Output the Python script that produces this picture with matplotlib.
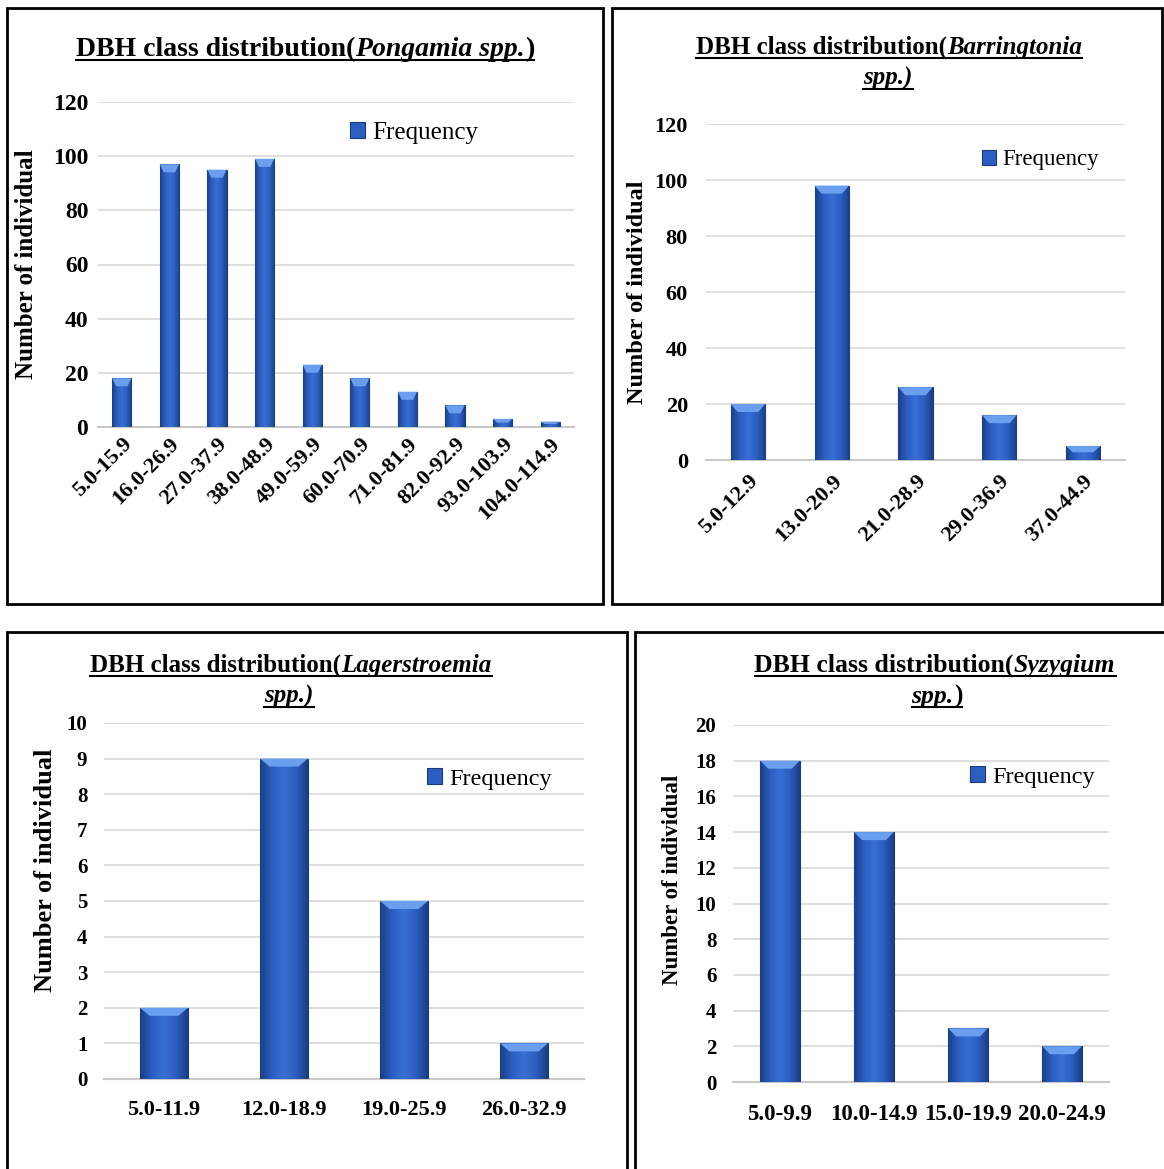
import numpy as np
import matplotlib
matplotlib.use("Agg")
import matplotlib.pyplot as plt
from matplotlib.colors import LinearSegmentedColormap
from matplotlib.patches import Rectangle, Polygon
from matplotlib.lines import Line2D

# --- data ---
pong_classes = ["5.0-15.9", "16.0-26.9", "27.0-37.9", "38.0-48.9", "49.0-59.9",
                "60.0-70.9", "71.0-81.9", "82.0-92.9", "93.0-103.9", "104.0-114.9"]
pong_freq = [18, 97, 95, 99, 23, 18, 13, 8, 3, 2]

barr_classes = ["5.0-12.9", "13.0-20.9", "21.0-28.9", "29.0-36.9", "37.0-44.9"]
barr_freq = [20, 98, 26, 16, 5]

lag_classes = ["5.0-11.9", "12.0-18.9", "19.0-25.9", "26.0-32.9"]
lag_freq = [2, 9, 5, 1]

syz_classes = ["5.0-9.9", "10.0-14.9", "15.0-19.9", "20.0-24.9"]
syz_freq = [18, 14, 3, 2]

W, H = 1164, 1169
plt.rcParams["font.family"] = ["Liberation Serif", "DejaVu Serif"]

fig = plt.figure(figsize=(W / 100, H / 100), dpi=100)
renderer = fig.canvas.get_renderer()

bar_cmap = LinearSegmentedColormap.from_list(
    "bar", ["#1b3f88", "#2b5ec0", "#3870d3", "#2b5ec0", "#1b3f88"])
BAR_COLOR = "#2b5ec0"


def fx(px):
    return px / W


def fy(py):
    return 1 - py / H


def panel_box(left, top, right, bottom):
    fig.add_artist(Rectangle((fx(left), fy(bottom)), fx(right) - fx(left),
                             fy(top) - fy(bottom), transform=fig.transFigure,
                             fill=False, edgecolor="black", linewidth=2))


def rich_line(cx, base, parts, size):
    objs = []
    for s, italic in parts:
        t = fig.text(0, fy(base), s, fontsize=size, fontweight="bold",
                     fontstyle="italic" if italic else "normal",
                     ha="left", va="baseline")
        objs.append(t)
    widths = [t.get_window_extent(renderer).width for t in objs]
    total = sum(widths)
    x = cx - total / 2
    for t, w in zip(objs, widths):
        t.set_x(fx(x))
        x += w
    fig.add_artist(Line2D([fx(cx - total / 2), fx(cx + total / 2)],
                          [fy(base + 4)] * 2, color="black", lw=1.5,
                          transform=fig.transFigure))


def chart(rect, classes, freq, ymax, ystep, width, tick_size, tick_pad,
          rot, xpad, xsize, ylab_xy, ylab_size, leg_xy, leg_size):
    left, top, right, bottom = rect
    ax = fig.add_axes([fx(left), fy(bottom), fx(right) - fx(left),
                       fy(top) - fy(bottom)])
    x = np.arange(len(freq))
    bars = ax.bar(x, freq, width=width, color=BAR_COLOR, edgecolor="#1a3a7e",
                  linewidth=0.8, zorder=3)
    upp = ymax / (bottom - top)
    for b in bars:
        x0, w, h = b.get_x(), b.get_width(), b.get_height()
        im = ax.imshow(np.linspace(0, 1, 64)[None, :], cmap=bar_cmap,
                       extent=[x0, x0 + w, 0, h], aspect="auto", zorder=3.5)
        im.set_clip_path(b)
        d = min(8 * upp, h * 0.45)
        ax.add_patch(Polygon([(x0, h), (x0 + w, h), (x0 + w * 0.8, h - d),
                              (x0 + w * 0.2, h - d)], closed=True,
                             facecolor="#6a9ff0", edgecolor="none", zorder=4))
    ax.set_xlim(-0.5, len(freq) - 0.5)
    ax.set_ylim(0, ymax)
    ax.set_yticks(np.arange(0, ymax + ystep / 2, ystep))
    ax.yaxis.grid(True, color="#d9d9d9", lw=1.2)
    ax.set_axisbelow(True)
    for s in ["top", "right", "left"]:
        ax.spines[s].set_visible(False)
    ax.spines["bottom"].set_color("#c8c8c8")
    ax.spines["bottom"].set_linewidth(1.5)
    ax.tick_params(axis="y", length=0, pad=tick_pad, labelsize=tick_size)
    ax.tick_params(axis="x", length=0, pad=xpad, labelsize=xsize)
    ax.set_xticks(x)
    if rot:
        ax.set_xticklabels(classes, rotation=45, ha="right",
                           rotation_mode="anchor")
    else:
        ax.set_xticklabels(classes)
    for lab in ax.get_xticklabels() + ax.get_yticklabels():
        lab.set_fontweight("bold")
    ax.set_ylabel("Number of individual", fontsize=ylab_size, fontweight="bold")
    ax.yaxis.set_label_coords(*ylab_xy)
    ax.legend([bars], ["Frequency"], loc="center left",
              bbox_to_anchor=(fx(leg_xy[0]), fy(leg_xy[1])),
              bbox_transform=fig.transFigure, frameon=False, borderpad=0,
              borderaxespad=0, handlelength=0.6, handleheight=0.6,
              handletextpad=0.3, prop=dict(size=leg_size))
    return ax


# panel frames
panel_box(7, 8, 603, 604)
panel_box(612, 8, 1162, 604)
panel_box(7, 632, 627, 1190)
panel_box(635, 632, 1190, 1190)

# Pongamia
rich_line(305, 56, [("DBH class distribution(", False), ("Pongamia spp.", True),
                    (")", False)], 20)
chart((98, 102, 574, 427), pong_classes, pong_freq, 120, 20, 0.4, 17, 7,
      True, 5, 16, (-0.126, 0.5), 18, (350, 133), 18)

# Barringtonia
rich_line(889, 54, [("DBH class distribution(", False), ("Barringtonia", True)], 18)
rich_line(888, 85, [("spp.)", True)], 18)
chart((706, 124, 1125, 460), barr_classes, barr_freq, 120, 20, 0.41, 16, 13,
      True, 8, 16, (-0.138, 0.5), 17.5, (982, 160), 16.5)

# Lagerstroemia
rich_line(291, 672, [("DBH class distribution(", False), ("Lagerstroemia", True)], 18)
rich_line(289, 703, [("spp.)", True)], 18)
chart((104, 723, 584, 1079), lag_classes, lag_freq, 10, 1, 0.4, 15, 12,
      False, 15, 16, (-0.098, 0.587), 19, (427, 779), 17.5)

# Syzygium
rich_line(935, 672, [("DBH class distribution(", False), ("Syzygium", True)], 18.5)
rich_line(937, 703, [("spp.", True), (")", False)], 18.5)
chart((733, 725, 1109, 1082), syz_classes, syz_freq, 20, 2, 0.42, 15, 12,
      False, 16, 16.5, (-0.133, 0.566), 16.5, (970, 777), 17.5)

fig.savefig("out.png", dpi=100)
